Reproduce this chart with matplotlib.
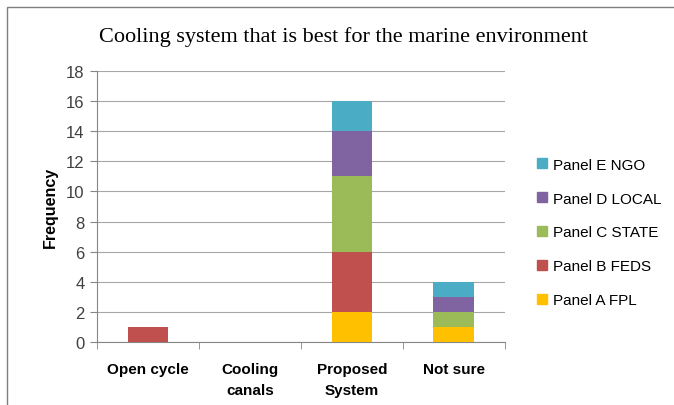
import numpy as np
import matplotlib.pyplot as plt
from matplotlib.patches import Rectangle, Patch

categories = ['Open cycle', 'Cooling\ncanals', 'Proposed\nSystem', 'Not sure']
series_names = ['Panel A FPL', 'Panel B FEDS', 'Panel C STATE', 'Panel D LOCAL', 'Panel E NGO']
panel_a = [0, 0, 2, 1]
panel_b = [1, 0, 4, 0]
panel_c = [0, 0, 5, 1]
panel_d = [0, 0, 3, 1]
panel_e = [0, 0, 2, 1]
colors = ['#FFC000', '#C0504D', '#9BBB59', '#8064A2', '#4BACC6']

fig = plt.figure(figsize=(6.74, 4.06), dpi=100)
ax = fig.add_axes([0.144, 0.155, 0.605, 0.668])

# chart frame, cut off at the right and bottom
fig.patches.append(Rectangle((7 / 674, -0.1), 1.2, 1 - 8 / 406 + 0.1,
                             transform=fig.transFigure, fill=False,
                             edgecolor='#7F7F7F', linewidth=1.0))

x = np.arange(len(categories))
bottom = np.zeros(len(categories))
for name, vals, c in zip(series_names, [panel_a, panel_b, panel_c, panel_d, panel_e], colors):
    ax.bar(x, vals, width=0.4, bottom=bottom, color=c, label=name, zorder=3)
    bottom += np.array(vals)

ax.set_xlim(-0.5, len(categories) - 0.5)
ax.set_ylim(0, 18)
ax.set_yticks(range(0, 19, 2))
ax.yaxis.grid(True, color='#A6A6A6', linewidth=0.8, zorder=0)

ax.set_xticks(x)
ax.set_xticklabels(categories, fontsize=11, fontweight='bold', family='Liberation Sans',
                   linespacing=1.65)
ax.tick_params(axis='x', length=0, pad=14)
ax.set_xticks(np.arange(-0.5, len(categories), 1), minor=True)
ax.tick_params(axis='x', which='minor', length=5, color='#868686')
ax.tick_params(axis='y', length=5, color='#868686', labelsize=12, labelcolor='#404040', pad=4)
for t in ax.get_yticklabels():
    t.set_family('Liberation Sans')

for side in ['top', 'right']:
    ax.spines[side].set_visible(False)
ax.spines['left'].set_color('#868686')
ax.spines['bottom'].set_color('#868686')

ax.set_ylabel('Frequency', fontsize=11.5, fontweight='bold', family='Liberation Sans', labelpad=6)

fig.text(0.509, 0.908, 'Cooling system that is best for the marine environment',
         ha='center', va='center', fontsize=16, family='Liberation Serif')

handles = [Patch(color=c) for c in colors][::-1]
fig.legend(handles, series_names[::-1], loc='center left', bbox_to_anchor=(0.777, 0.425),
           frameon=False, handlelength=0.6, handleheight=0.6,
           handletextpad=0.45, labelspacing=1.3, prop={'family': 'Liberation Sans', 'size': 11})

fig.savefig('out.png', dpi=100)
